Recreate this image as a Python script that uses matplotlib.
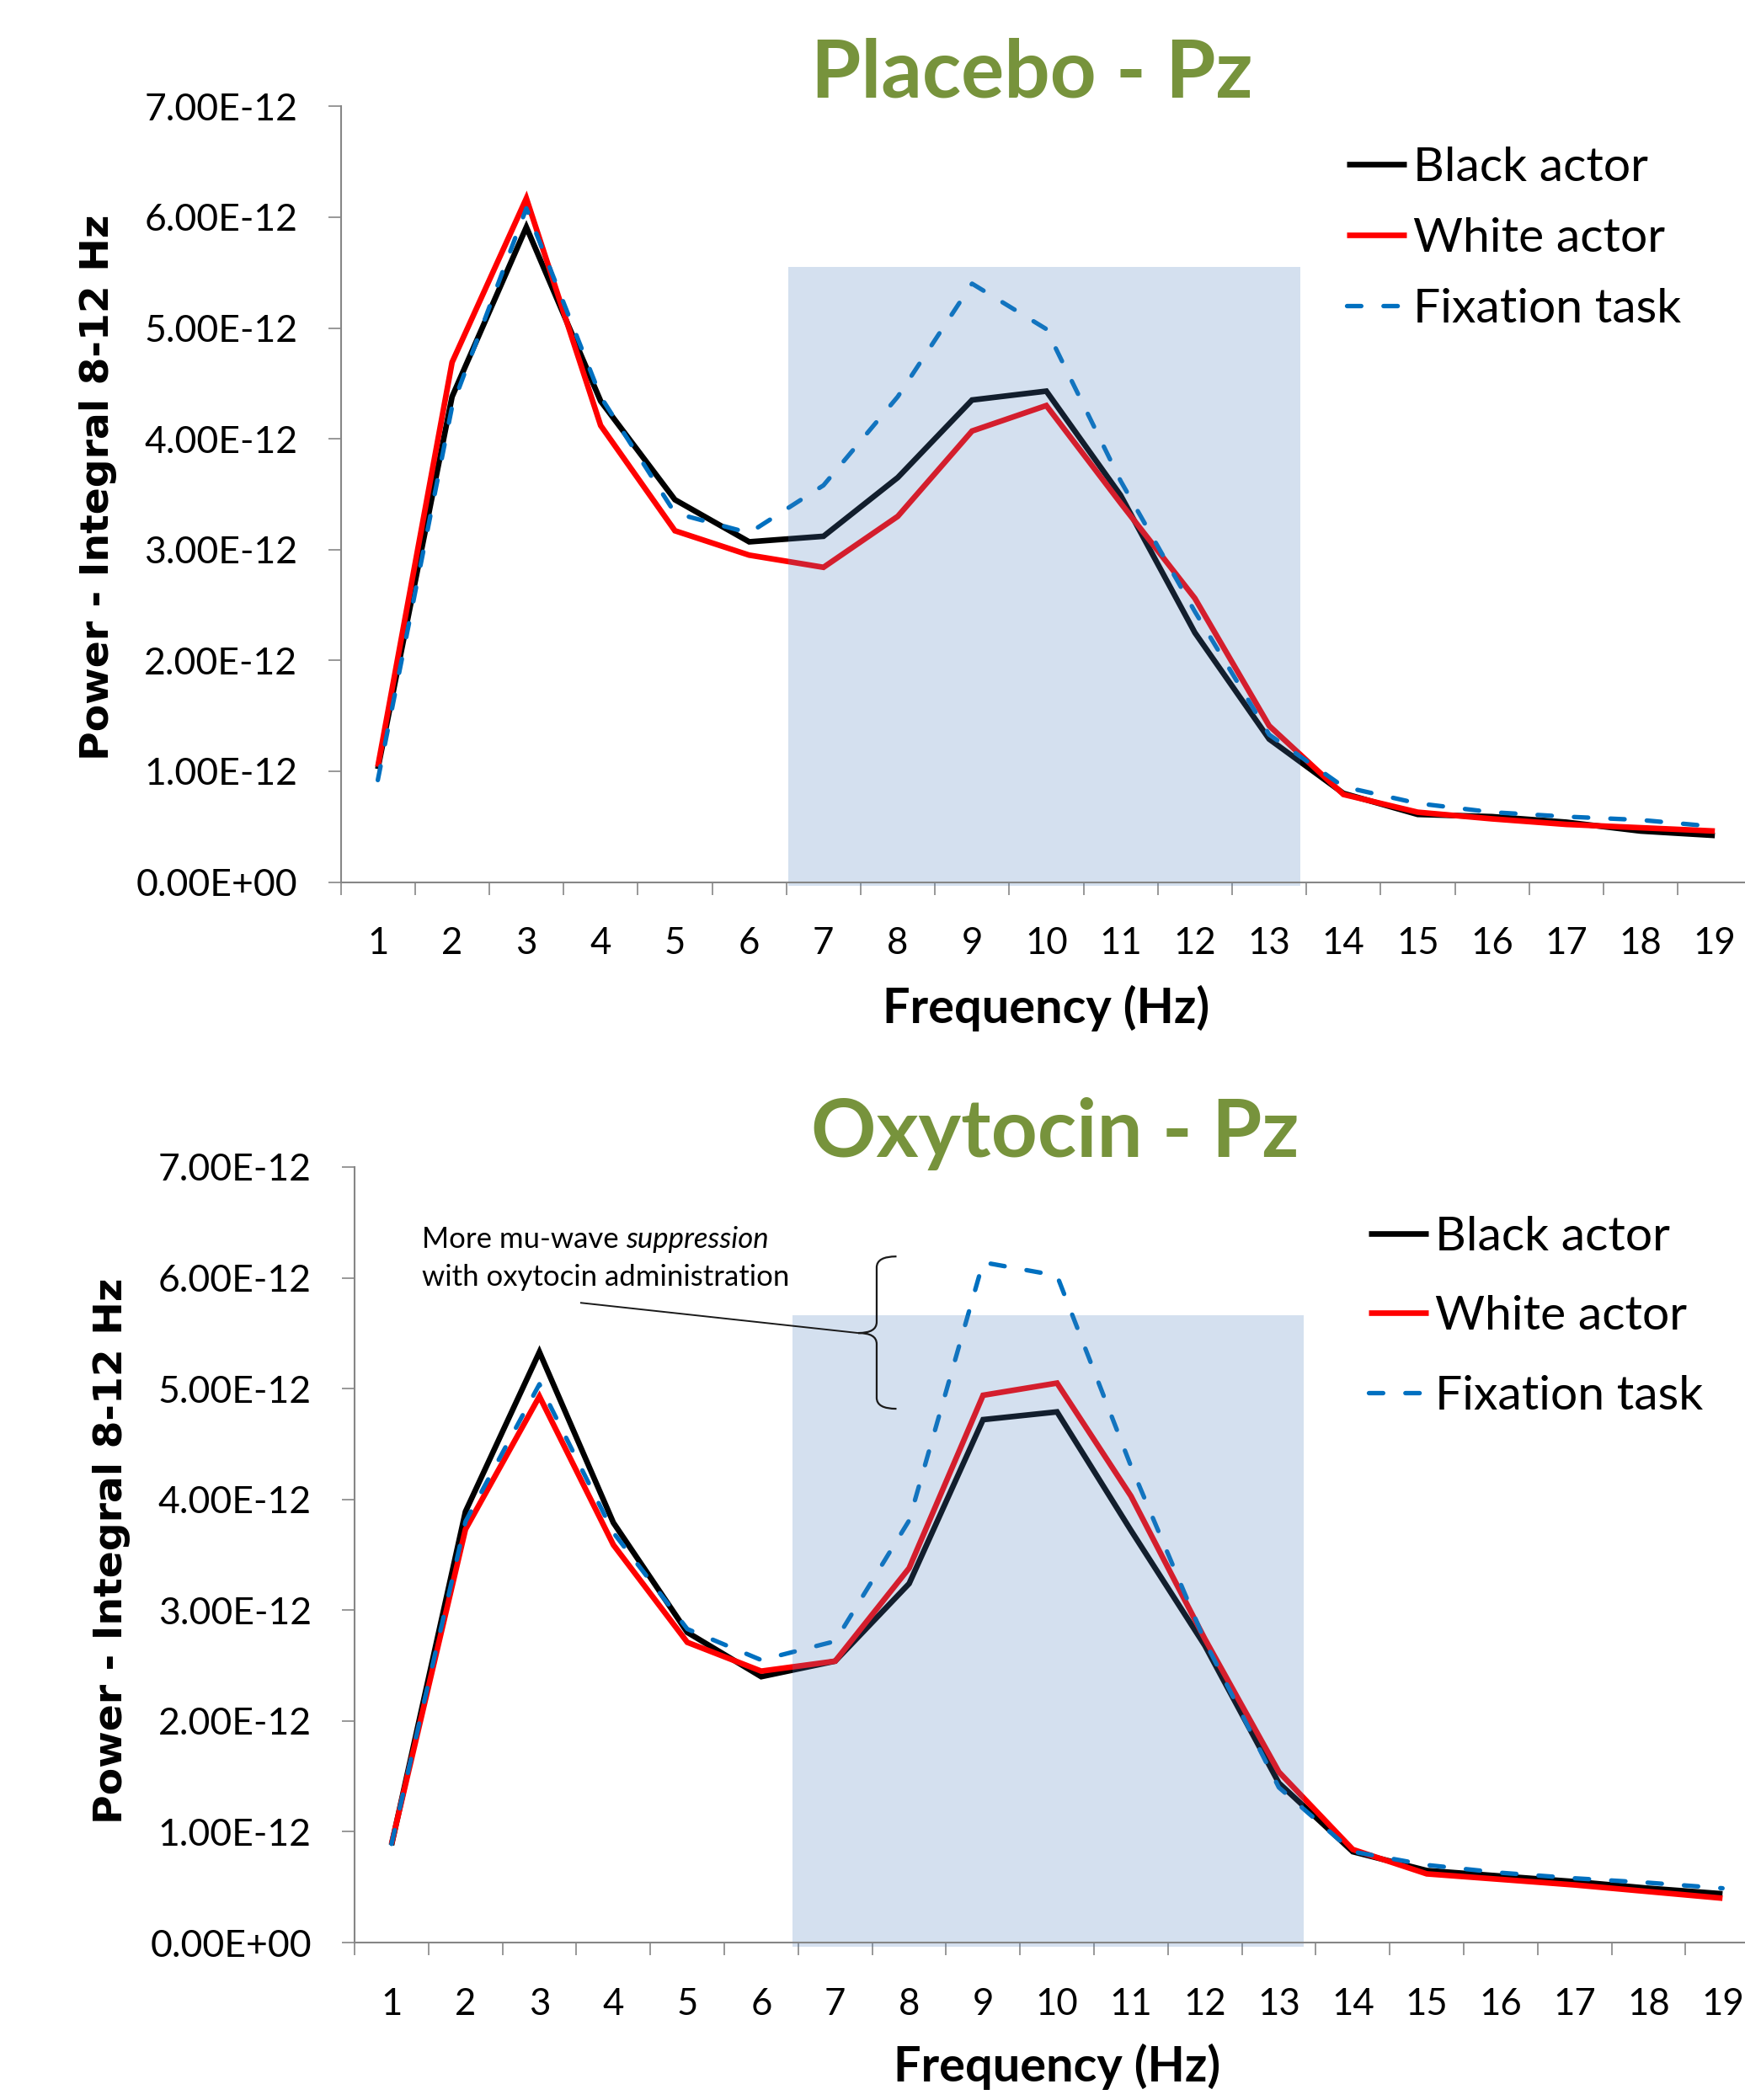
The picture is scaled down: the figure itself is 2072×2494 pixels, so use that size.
import numpy as np
import matplotlib
matplotlib.use("Agg")
import matplotlib.pyplot as plt
from matplotlib.path import Path
from matplotlib.patches import PathPatch, Rectangle
from matplotlib.ticker import FuncFormatter, FixedLocator

# ---------------- data ----------------
UNIT = 1e-12
frequencies = list(range(1, 20))
freq_labels = [str(f) for f in frequencies]
y_tick_values = [0, 1, 2, 3, 4, 5, 6, 7]
series_names = ["Black actor", "White actor", "Fixation task"]
panel_titles = ["Placebo - Pz", "Oxytocin - Pz"]
x_label = "Frequency (Hz)"
y_label = "Power - Integral 8-12 Hz"

placebo_black = [1.02, 4.38, 5.91, 4.34, 3.45, 3.07, 3.12, 3.65, 4.35, 4.43,
                 3.49, 2.25, 1.29, 0.80, 0.61, 0.59, 0.54, 0.46, 0.42]
placebo_white = [1.04, 4.69, 6.17, 4.12, 3.17, 2.95, 2.84, 3.30, 4.07, 4.30,
                 3.42, 2.56, 1.41, 0.79, 0.63, 0.57, 0.52, 0.49, 0.46]
placebo_fix = [0.92, 4.29, 6.08, 4.38, 3.33, 3.15, 3.58, 4.38, 5.40, 4.99,
               3.62, 2.44, 1.33, 0.86, 0.71, 0.63, 0.59, 0.56, 0.50]

oxy_black = [0.88, 3.89, 5.33, 3.79, 2.80, 2.40, 2.54, 3.24, 4.72, 4.79,
             3.72, 2.68, 1.44, 0.82, 0.65, 0.60, 0.55, 0.49, 0.44]
oxy_white = [0.89, 3.73, 4.93, 3.59, 2.71, 2.45, 2.54, 3.38, 4.94, 5.05,
             4.03, 2.74, 1.54, 0.84, 0.62, 0.57, 0.52, 0.46, 0.40]
oxy_fix = [0.89, 3.80, 5.04, 3.70, 2.83, 2.55, 2.72, 3.81, 6.14, 6.02,
           4.30, 2.72, 1.40, 0.82, 0.70, 0.63, 0.58, 0.54, 0.49]

# highlighted band (x in category units, y in 1e-12 units)
placebo_band = (6.53, 13.42, 5.55)
oxy_band = (6.42, 13.34, 5.66)

annotation_line1 = "More mu-wave "
annotation_italic = "suppression"
annotation_line2 = "with oxytocin administration"

# ---------------- style ----------------
FONT = ["Lato", "DejaVu Sans"]
plt.rcParams["font.family"] = FONT
W, H, DPI = 2072, 2494, 100
PX = 0.72  # px -> pt at dpi 100

COLORS = ["#000000", "#FF0000", "#0070C0"]
AXIS_GRAY = "#868686"
TITLE_GREEN = "#77933C"
BAND_COLOR = "#4F81BD"
BAND_ALPHA = 0.24

fig = plt.figure(figsize=(W / DPI, H / DPI), dpi=DPI)
fig.patch.set_facecolor("white")

axes_rects = [
    [404.5 / W, (H - 1047.5) / H, 1675.8 / W, 921.2 / H],
    [421.0 / W, (H - 2307.0) / H, 1668.2 / W, 921.0 / H],
]
title_pos = [(1225 / W, (H - 115) / H), (1253 / W, (H - 1374) / H)]
legend_anchor = [(1599 / W, (H - 174) / H), (1625 / W, (H - 1444) / H)]
legend_spacing = [0.58, 0.76]
ylabel_coords = [(-0.172, 0.509), (-0.173, 0.505)]
xlabel_coords = [(0.4998, -0.1818), (0.4999, -0.179)]

panels = [
    (placebo_black, placebo_white, placebo_fix, placebo_band),
    (oxy_black, oxy_white, oxy_fix, oxy_band),
]

sci = FuncFormatter(lambda v, pos: f"{v:.2E}")

axes = []
for i, (blk, wht, fix, band) in enumerate(panels):
    ax = fig.add_axes(axes_rects[i])
    axes.append(ax)
    x = np.array(frequencies)
    series = [np.array(blk) * UNIT, np.array(wht) * UNIT, np.array(fix) * UNIT]
    handles = []
    for k, (ys, col, name) in enumerate(zip(series, COLORS, series_names)):
        if k < 2:
            ln, = ax.plot(x, ys, color=col, lw=4.8, solid_joinstyle="miter",
                          solid_capstyle="butt", label=name, zorder=2 + k * 0.1)
        else:
            ln, = ax.plot(x, ys, color=col, lw=3.8, label=name, zorder=2.5,
                          dash_capstyle="round", dash_joinstyle="round")
            ln.set_dashes((3.2, 5.0))
        handles.append(ln)

    # shaded band on top of the lines (semi-transparent)
    x0, x1, ytop = band
    rect = Rectangle((x0, -0.035 * UNIT), x1 - x0, ytop * UNIT + 0.035 * UNIT,
                     facecolor=BAND_COLOR, alpha=BAND_ALPHA, edgecolor="none",
                     zorder=3, clip_on=False)
    ax.add_patch(rect)

    ax.set_xlim(0.5, 19.5)
    ax.set_ylim(0, 7 * UNIT)
    ax.xaxis.set_major_locator(FixedLocator(frequencies))
    ax.set_xticklabels(freq_labels)
    ax.xaxis.set_minor_locator(FixedLocator([f + 0.5 for f in [0] + frequencies]))
    ax.yaxis.set_major_locator(FixedLocator([v * UNIT for v in y_tick_values]))
    ax.yaxis.set_major_formatter(sci)

    for s in ["top", "right"]:
        ax.spines[s].set_visible(False)
    for s in ["left", "bottom"]:
        ax.spines[s].set_color(AXIS_GRAY)
        ax.spines[s].set_linewidth(1.5)
        ax.spines[s].set_zorder(4)

    ax.tick_params(axis="x", which="major", length=0, pad=38, labelsize=31.5)
    ax.tick_params(axis="x", which="minor", length=15 * PX, width=1.2,
                   color=AXIS_GRAY, direction="out")
    ax.tick_params(axis="y", which="major", length=15 * PX, width=1.2,
                   color=AXIS_GRAY, direction="out", pad=26, labelsize=32)

    ax.set_ylabel(y_label, fontsize=34, fontweight="bold",
                  family=["DejaVu Sans"])
    ax.yaxis.label.set_va("center")
    ax.yaxis.set_label_coords(*ylabel_coords[i])
    ax.set_xlabel(x_label, fontsize=41.5, fontweight="bold")
    ax.xaxis.label.set_va("baseline")
    ax.xaxis.set_label_coords(*xlabel_coords[i])

    fig.text(title_pos[i][0], title_pos[i][1], panel_titles[i], fontsize=69,
             fontweight="bold", color=TITLE_GREEN, ha="center", va="baseline")

    fig.legend(handles=handles, labels=series_names, loc="upper left",
               bbox_to_anchor=legend_anchor[i], frameon=False,
               fontsize=41, handlelength=1.25, handletextpad=0.14,
               labelspacing=legend_spacing[i], borderpad=0,
               borderaxespad=0)

# ---------------- annotation on oxytocin panel ----------------
ax = axes[1]
t1 = ax.text(1.411, 6.27 * UNIT, annotation_line1, fontsize=25,
             ha="left", va="baseline", zorder=5)
ax.annotate(annotation_italic, xy=(1, 0), xycoords=t1, fontsize=25,
            style="italic", ha="left", va="bottom", zorder=5)
ax.text(1.411, 5.93 * UNIT, annotation_line2, fontsize=25,
        ha="left", va="baseline", zorder=5)

# leader line and brace (annotation geometry, data coordinates)
leader_start = (3.552, 5.775)
brace_tip = (7.311, 5.502)
brace_x, brace_arm_x = 7.561, 7.829
brace_top, brace_bot = 6.193, 4.818
brace_curl = 0.099

verts = [
    (brace_arm_x, brace_top),
    (brace_x, brace_top), (brace_x, brace_top - brace_curl),
    (brace_x, brace_tip[1] + brace_curl),
    (brace_x, brace_tip[1]), brace_tip,
    (brace_x, brace_tip[1]), (brace_x, brace_tip[1] - brace_curl),
    (brace_x, brace_bot + brace_curl),
    (brace_x, brace_bot), (brace_arm_x, brace_bot),
]
codes = [Path.MOVETO, Path.CURVE3, Path.CURVE3, Path.LINETO,
         Path.CURVE3, Path.CURVE3, Path.CURVE3, Path.CURVE3,
         Path.LINETO, Path.CURVE3, Path.CURVE3]
verts = [(vx, vy * UNIT) for vx, vy in verts]
ax.add_patch(PathPatch(Path(verts, codes), facecolor="none", edgecolor="#1a1a1a",
                       lw=1.6, zorder=5, clip_on=False))
lead = Path([(leader_start[0], leader_start[1] * UNIT),
             (brace_tip[0], brace_tip[1] * UNIT)], [Path.MOVETO, Path.LINETO])
ax.add_patch(PathPatch(lead, facecolor="none", edgecolor="#1a1a1a", lw=1.4,
                       zorder=5, clip_on=False))

fig.savefig("out.png", dpi=DPI, facecolor="white")
